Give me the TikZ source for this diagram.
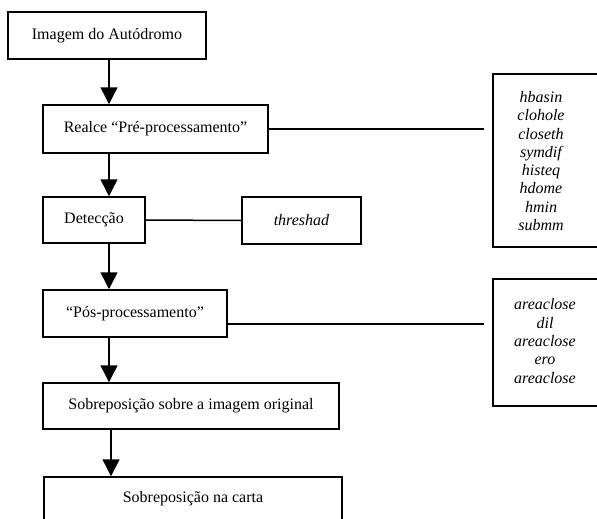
\documentclass[tikz,border=0pt]{standalone}
\usepackage{fontspec}
\setmainfont{Liberation Serif}
\usetikzlibrary{arrows.meta}
\begin{document}
\begin{tikzpicture}[x=1pt,y=-1pt,
  box/.style={draw, line width=1.5pt, rectangle, inner sep=0pt, font=\fontsize{16}{18}\selectfont},
  sidebox/.style={draw, line width=1.8pt, rectangle, inner sep=0pt},
  flow/.style={line width=1.5pt, -{Triangle[width=17pt,length=17pt]}},
  link/.style={line width=1.5pt},
  list/.style={font=\fontsize{16}{18.3}\selectfont\itshape, align=center, inner sep=0pt}]
\useasboundingbox (0,0) rectangle (597,519);
\clip (0,0) rectangle (597,519);
\coordinate (ax) at (109,0);
\coordinate (ax2) at (111,0);

\node[box, minimum width=198pt, minimum height=47pt] (b1) at (107,35.5) {Imagem do Autódromo};
\node[box, minimum width=225pt, minimum height=48pt] (b2) at (155.5,129) {Realce “Pré-processamento”};
\node[box, minimum width=102pt, minimum height=46pt] (b3) at (94,220) {Detecção};
\node[box, minimum width=119pt, minimum height=47pt] (t) at (301.5,220.5) {\itshape threshad};
\node[box, minimum width=184pt, minimum height=47pt] (b4) at (135,313.5) {“Pós-processamento”};
\node[box, minimum width=296pt, minimum height=46pt] (b5) at (191,406) {Sobreposição sobre a imagem original};
\node[box, minimum width=298pt, minimum height=44pt] (b6) at (193,499) {Sobreposição na carta};

\node[sidebox, minimum width=127pt, minimum height=173pt] (r1) at (556.5,160.5) {};
\node[list] (r1t) at (541,161) {hbasin\\clohole\\closeth\\symdif\\histeq\\hdome\\hmin\\submm};
\node[sidebox, minimum width=127pt, minimum height=127pt] (r2) at (556.5,342.5) {};
\node[list] (r2t) at (545,341) {areaclose\\dil\\areaclose\\ero\\areaclose};

\draw[flow] (b1.south -| ax) -- (b2.north -| ax);
\draw[flow] (b2.south -| ax) -- (b3.north -| ax);
\draw[flow] (b3.south -| ax) -- (b4.north -| ax);
\draw[flow] (b4.south -| ax) -- (b5.north -| ax);
\draw[flow] (b5.south -| ax2) -- (b6.north -| ax2);

\draw[link, shorten >=8pt] (b2.east) -- (b2.east -| r1.west);
\draw[link] (b3.east) -- (t.west);
\coordinate (p4) at ([yshift=14pt]b4.south east);
\draw[link, shorten >=8pt] (p4) -- (p4 -| r2.west);
\end{tikzpicture}
\end{document}
